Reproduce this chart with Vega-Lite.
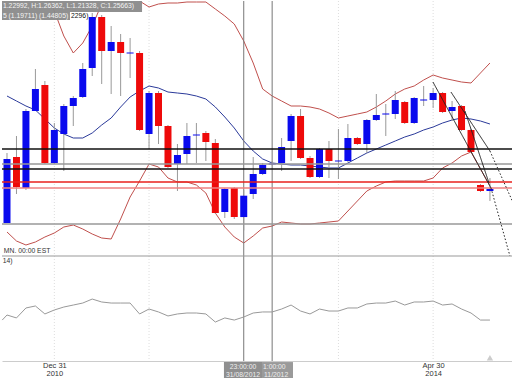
{
  "$schema": "https://vega.github.io/schema/vega-lite/v6.json",
  "autosize": {"type": "pad"},
  "padding": 0,
  "spacing": 0,
  "bounds": "flush",
  "background": "white",
  "config": {
    "view": {"stroke": null},
    "font": "Liberation Sans",
    "text": {"font": "Liberation Sans"},
    "scale": {"continuousPadding": 0},
    "axis": {"grid": false, "ticks": false, "domain": false, "labels": false, "title": null}
  },
  "datasets": {
    "one": [{"k": 1}],
    "candles": [
      {"i":0,"o":1.2225,"h":1.31,"l":1.2225,"c":1.3025},
      {"i":1,"o":1.305,"h":1.33125,"l":1.25875,"c":1.2675},
      {"i":2,"o":1.26625,"h":1.365,"l":1.26375,"c":1.3625},
      {"i":3,"o":1.3625,"h":1.415,"l":1.3625,"c":1.39},
      {"i":4,"o":1.395,"h":1.4,"l":1.29625,"c":1.2975},
      {"i":5,"o":1.2975,"h":1.3475,"l":1.29625,"c":1.33875},
      {"i":6,"o":1.33375,"h":1.37125,"l":1.2875,"c":1.36875},
      {"i":7,"o":1.36875,"h":1.38125,"l":1.34375,"c":1.37875},
      {"i":8,"o":1.38,"h":1.4225,"l":1.37875,"c":1.415},
      {"i":9,"o":1.41625,"h":1.485,"l":1.40625,"c":1.48},
      {"i":10,"o":1.48,"h":1.4825,"l":1.39625,"c":1.4375},
      {"i":11,"o":1.4375,"h":1.46875,"l":1.38375,"c":1.44875},
      {"i":12,"o":1.44875,"h":1.45875,"l":1.38125,"c":1.435},
      {"i":13,"o":1.434375,"h":1.45375,"l":1.40375,"c":1.435625},
      {"i":14,"o":1.435,"h":1.4375,"l":1.3375,"c":1.33875},
      {"i":15,"o":1.33375,"h":1.3875,"l":1.315,"c":1.385},
      {"i":16,"o":1.385,"h":1.3875,"l":1.32125,"c":1.34375},
      {"i":17,"o":1.34375,"h":1.345,"l":1.29125,"c":1.2925},
      {"i":18,"o":1.29625,"h":1.32125,"l":1.2625,"c":1.3075},
      {"i":19,"o":1.30875,"h":1.3475,"l":1.29625,"c":1.33125},
      {"i":20,"o":1.331875,"h":1.3475,"l":1.2975,"c":1.333125},
      {"i":21,"o":1.335,"h":1.3375,"l":1.3,"c":1.32375},
      {"i":22,"o":1.3225,"h":1.3275,"l":1.23375,"c":1.235},
      {"i":23,"o":1.23625,"h":1.26625,"l":1.22875,"c":1.265},
      {"i":24,"o":1.26625,"h":1.2675,"l":1.2275,"c":1.23},
      {"i":25,"o":1.22992,"h":1.26362,"l":1.21328,"c":1.25663},
      {"i":26,"o":1.25875,"h":1.305,"l":1.2525,"c":1.28375},
      {"i":27,"o":1.28375,"h":1.2975,"l":1.2825,"c":1.295},
      {"i":28,"o":1.2956,"h":1.3,"l":1.2944,"c":1.2969},
      {"i":29,"o":1.2975,"h":1.32875,"l":1.2875,"c":1.3175},
      {"i":30,"o":1.325,"h":1.35875,"l":1.3,"c":1.35625},
      {"i":31,"o":1.35625,"h":1.365,"l":1.3025,"c":1.30375},
      {"i":32,"o":1.30375,"h":1.30625,"l":1.27875,"c":1.28},
      {"i":33,"o":1.28,"h":1.31625,"l":1.27875,"c":1.315},
      {"i":34,"o":1.315,"h":1.325,"l":1.27875,"c":1.3},
      {"i":35,"o":1.2994,"h":1.34,"l":1.2775,"c":1.3006},
      {"i":36,"o":1.3,"h":1.34625,"l":1.29875,"c":1.32875},
      {"i":37,"o":1.32875,"h":1.33,"l":1.32,"c":1.32125},
      {"i":38,"o":1.32125,"h":1.3525,"l":1.31,"c":1.35125},
      {"i":39,"o":1.35125,"h":1.38375,"l":1.35,"c":1.3575},
      {"i":40,"o":1.3581,"h":1.37125,"l":1.33125,"c":1.3594},
      {"i":41,"o":1.35875,"h":1.3875,"l":1.3525,"c":1.37625},
      {"i":42,"o":1.37375,"h":1.375,"l":1.34625,"c":1.3475},
      {"i":43,"o":1.3475,"h":1.38,"l":1.34625,"c":1.37875},
      {"i":44,"o":1.3756,"h":1.39375,"l":1.36875,"c":1.3769},
      {"i":45,"o":1.37625,"h":1.39125,"l":1.36625,"c":1.385},
      {"i":46,"o":1.385,"h":1.38625,"l":1.36,"c":1.36125},
      {"i":47,"o":1.3625,"h":1.375,"l":1.35,"c":1.3675},
      {"i":48,"o":1.36875,"h":1.37,"l":1.3375,"c":1.33875},
      {"i":49,"o":1.33875,"h":1.34,"l":1.31,"c":1.31125},
      {"i":50,"o":1.27,"h":1.27125,"l":1.26125,"c":1.2625},
      {"i":51,"o":1.2625,"h":1.27875,"l":1.25,"c":1.265}
    ],
    "bands": [
      {"i":0,"up":1.575,"mid":1.38125,"lo":1.21125},
      {"i":1,"up":1.56875,"mid":1.375,"lo":1.2},
      {"i":2,"up":1.55625,"mid":1.36875,"lo":1.195},
      {"i":3,"up":1.54375,"mid":1.36375,"lo":1.19875},
      {"i":4,"up":1.5125,"mid":1.3525,"lo":1.205},
      {"i":5,"up":1.4875,"mid":1.34125,"lo":1.21},
      {"i":6,"up":1.45625,"mid":1.33375,"lo":1.2175},
      {"i":7,"up":1.435,"mid":1.32875,"lo":1.22},
      {"i":8,"up":1.4475,"mid":1.32875,"lo":1.215},
      {"i":9,"up":1.46875,"mid":1.335,"lo":1.20875},
      {"i":10,"up":1.49625,"mid":1.345,"lo":1.20375},
      {"i":11,"up":1.51,"mid":1.35375,"lo":1.2025},
      {"i":12,"up":1.515,"mid":1.3675,"lo":1.2275},
      {"i":13,"up":1.51,"mid":1.38,"lo":1.255},
      {"i":14,"up":1.5,"mid":1.3875,"lo":1.275},
      {"i":15,"up":1.4925,"mid":1.39375,"lo":1.29625},
      {"i":16,"up":1.49625,"mid":1.39125,"lo":1.2925},
      {"i":17,"up":1.4975,"mid":1.38625,"lo":1.27875},
      {"i":18,"up":1.4975,"mid":1.385,"lo":1.27375},
      {"i":19,"up":1.49875,"mid":1.38375,"lo":1.27375},
      {"i":20,"up":1.49875,"mid":1.38125,"lo":1.27},
      {"i":21,"up":1.49875,"mid":1.3775,"lo":1.26},
      {"i":22,"up":1.49,"mid":1.3675,"lo":1.235},
      {"i":23,"up":1.48125,"mid":1.355,"lo":1.2175},
      {"i":24,"up":1.47125,"mid":1.34125,"lo":1.205},
      {"i":25,"up":1.45,"mid":1.325,"lo":1.1975},
      {"i":26,"up":1.4225,"mid":1.3125,"lo":1.20625},
      {"i":27,"up":1.39,"mid":1.3025,"lo":1.21625},
      {"i":28,"up":1.38125,"mid":1.2975,"lo":1.21875},
      {"i":29,"up":1.375,"mid":1.29625,"lo":1.22375},
      {"i":30,"up":1.36875,"mid":1.295,"lo":1.2225},
      {"i":31,"up":1.36875,"mid":1.295,"lo":1.22125},
      {"i":32,"up":1.3675,"mid":1.29375,"lo":1.22125},
      {"i":33,"up":1.365,"mid":1.2925,"lo":1.2225},
      {"i":34,"up":1.36,"mid":1.29125,"lo":1.22375},
      {"i":35,"up":1.35375,"mid":1.29125,"lo":1.225},
      {"i":36,"up":1.35625,"mid":1.2975,"lo":1.2375},
      {"i":37,"up":1.35875,"mid":1.30375,"lo":1.25},
      {"i":38,"up":1.36125,"mid":1.31,"lo":1.2625},
      {"i":39,"up":1.3675,"mid":1.315,"lo":1.26875},
      {"i":40,"up":1.375,"mid":1.32,"lo":1.27375},
      {"i":41,"up":1.38375,"mid":1.325,"lo":1.275},
      {"i":42,"up":1.39,"mid":1.33,"lo":1.275},
      {"i":43,"up":1.39375,"mid":1.33375,"lo":1.275},
      {"i":44,"up":1.40125,"mid":1.33875,"lo":1.275},
      {"i":45,"up":1.4075,"mid":1.3425,"lo":1.27875},
      {"i":46,"up":1.40375,"mid":1.3475,"lo":1.29125},
      {"i":47,"up":1.40125,"mid":1.35125,"lo":1.2975},
      {"i":48,"up":1.39875,"mid":1.35375,"lo":1.30625},
      {"i":49,"up":1.3975,"mid":1.3525,"lo":1.31125},
      {"i":50,"up":1.41,"mid":1.35,"lo":1.29},
      {"i":51,"up":1.4225,"mid":1.34625,"lo":1.26875}
    ],
    "rsi": [
      {"i":-0.5,"v":39.0},{"i":0,"v":43.8},{"i":1,"v":41.0},{"i":2,"v":50.5},{"i":3,"v":52.4},
      {"i":4,"v":44.8},{"i":5,"v":48.6},{"i":6,"v":51.4},{"i":7,"v":53.3},{"i":8,"v":55.2},
      {"i":9,"v":59.0},{"i":10,"v":56.2},{"i":11,"v":55.2},{"i":12,"v":55.2},{"i":13,"v":55.2},
      {"i":14,"v":44.8},{"i":15,"v":49.5},{"i":16,"v":46.7},{"i":17,"v":42.9},{"i":18,"v":44.8},
      {"i":19,"v":45.7},{"i":20,"v":45.7},{"i":21,"v":44.8},{"i":22,"v":37.1},{"i":23,"v":41.0},
      {"i":24,"v":39.0},{"i":25,"v":41.9},{"i":26,"v":45.7},{"i":27,"v":46.7},{"i":28,"v":46.7},
      {"i":29,"v":49.5},{"i":30,"v":53.3},{"i":31,"v":47.6},{"i":32,"v":44.8},{"i":33,"v":49.5},
      {"i":34,"v":47.6},{"i":35,"v":47.6},{"i":36,"v":50.5},{"i":37,"v":50.5},{"i":38,"v":54.3},
      {"i":39,"v":55.2},{"i":40,"v":55.2},{"i":41,"v":57.1},{"i":42,"v":53.3},{"i":43,"v":56.2},
      {"i":44,"v":56.2},{"i":45,"v":57.1},{"i":46,"v":53.3},{"i":47,"v":54.3},{"i":48,"v":49.5},
      {"i":49,"v":45.7},{"i":50,"v":39.0},{"i":51,"v":39.0}
    ],
    "grid": [{"i":5},{"i":15},{"i":35},{"i":45}],
    "cross": [{"i":25},{"i":28}],
    "levels": [
      {"p":1.315,"kind":"r1"},
      {"p":1.29625,"kind":"pv"},
      {"p":1.29,"kind":"r2"},
      {"p":1.27375,"kind":"s1"},
      {"p":1.26625,"kind":"s2"},
      {"p":1.22125,"kind":"lw"}
    ],
    "trend": [
      {"seg":"A1","style":"solid","i":44.98,"p":1.39875},
      {"seg":"A1","style":"solid","i":51.11,"p":1.26625},
      {"seg":"A2","style":"dotted","i":51.11,"p":1.26625},
      {"seg":"A2","style":"dotted","i":53.11,"p":1.18125},
      {"seg":"B1","style":"solid","i":46.88,"p":1.38625},
      {"seg":"B1","style":"solid","i":51.0,"p":1.3125},
      {"seg":"B2","style":"dotted","i":51.0,"p":1.3125},
      {"seg":"B2","style":"dotted","i":53.6,"p":1.24375},
      {"seg":"D1","style":"solid","i":48.36,"p":1.3625},
      {"seg":"D1","style":"solid","i":50.9,"p":1.2725}
    ]
  },
  "vconcat": [
    {
      "width": 512,
      "height": 255,
      "layer": [
        {
          "data": {"name": "grid"},
          "mark": {"type": "rule", "color": "#dddddd", "strokeDash": [1, 2], "strokeWidth": 1},
          "encoding": {"x": {"field": "i", "type": "quantitative", "scale": {"domain": [-0.528, 53.54], "nice": false, "zero": false, "padding": 0}, "axis": null}}
        },
        {
          "data": {"name": "bands"},
          "mark": {"type": "line", "color": "#c0504d", "strokeWidth": 1, "clip": true},
          "encoding": {
            "x": {"field": "i", "type": "quantitative", "axis": null},
            "y": {"field": "up", "type": "quantitative", "scale": {"domain": [1.18125, 1.5], "nice": false, "zero": false, "padding": 0}, "axis": null}
          }
        },
        {
          "data": {"name": "bands"},
          "mark": {"type": "line", "color": "#c0504d", "strokeWidth": 1, "clip": true},
          "encoding": {
            "x": {"field": "i", "type": "quantitative", "axis": null},
            "y": {"field": "lo", "type": "quantitative", "axis": null}
          }
        },
        {
          "data": {"name": "bands"},
          "mark": {"type": "line", "color": "#2b3a9a", "strokeWidth": 1, "clip": true},
          "encoding": {
            "x": {"field": "i", "type": "quantitative", "axis": null},
            "y": {"field": "mid", "type": "quantitative", "axis": null}
          }
        },
        {
          "data": {"name": "cross"},
          "mark": {"type": "rule", "color": "#777777", "strokeWidth": 1},
          "encoding": {"x": {"field": "i", "type": "quantitative", "axis": null}}
        },
        {
          "data": {"name": "candles"},
          "mark": {"type": "rule", "color": "#999999", "strokeWidth": 1},
          "encoding": {
            "x": {"field": "i", "type": "quantitative", "axis": null},
            "y": {"field": "l", "type": "quantitative", "axis": null},
            "y2": {"field": "h"}
          }
        },
        {
          "data": {"name": "candles"},
          "mark": {"type": "bar", "width": 7},
          "encoding": {
            "x": {"field": "i", "type": "quantitative", "scale": {"domain": [-0.528, 53.54], "nice": false, "zero": false, "padding": 0}, "axis": null},
            "y": {"field": "o", "type": "quantitative", "axis": null},
            "y2": {"field": "c"},
            "color": {"condition": {"test": "datum.c >= datum.o", "value": "#0a0aee"}, "value": "#ee0a0a"}
          }
        },
        {
          "data": {"name": "levels"},
          "mark": {"type": "rule"},
          "encoding": {
            "y": {"field": "p", "type": "quantitative", "axis": null},
            "color": {"field": "kind", "type": "nominal", "legend": null, "scale": {"domain": ["r1", "r2", "pv", "s1", "s2", "lw"], "range": ["#111111", "#111111", "#999999", "#e8201c", "#ee8080", "#999999"]}},
            "strokeWidth": {"field": "kind", "type": "ordinal", "legend": null, "scale": {"domain": ["r1", "r2", "pv", "s1", "s2", "lw"], "range": [1.5, 1.5, 1, 2.5, 1, 1]}}
          }
        },
        {
          "data": {"name": "trend"},
          "mark": {"type": "line", "color": "#222222", "strokeWidth": 1, "clip": true},
          "encoding": {
            "x": {"field": "i", "type": "quantitative", "axis": null},
            "y": {"field": "p", "type": "quantitative", "axis": null},
            "detail": {"field": "seg", "type": "nominal"},
            "strokeDash": {"field": "style", "type": "nominal", "legend": null, "scale": {"domain": ["solid", "dotted"], "range": [[1, 0], [1.5, 2]]}}
          }
        },
        {
          "data": {"name": "one"},
          "mark": {"type": "rect", "color": "#8a8a8a", "opacity": 0.95},
          "encoding": {
            "x": {"datum": -0.528, "type": "quantitative", "axis": null},
            "x2": {"datum": 14.26},
            "y": {"datum": 1.5, "type": "quantitative", "axis": null},
            "y2": {"datum": 1.48625}
          }
        },
        {
          "data": {"name": "one"},
          "mark": {"type": "rect", "color": "#8a8a8a", "opacity": 0.95},
          "encoding": {
            "x": {"datum": -0.528, "type": "quantitative", "axis": null},
            "x2": {"datum": 6.65},
            "y": {"datum": 1.48625, "type": "quantitative", "axis": null},
            "y2": {"datum": 1.47625}
          }
        },
        {
          "data": {"name": "one"},
          "mark": {"type": "text", "text": "1.22992, H:1.26362, L:1.21328, C:1.25663)", "align": "left", "baseline": "middle", "font": "Liberation Sans", "fontSize": 6.8, "color": "#f4f4f4"},
          "encoding": {"x": {"datum": -0.43, "type": "quantitative", "axis": null}, "y": {"datum": 1.4933, "type": "quantitative", "axis": null}}
        },
        {
          "data": {"name": "one"},
          "mark": {"type": "text", "text": "5 (1.19711) (1.44805)", "align": "left", "baseline": "middle", "font": "Liberation Sans", "fontSize": 6.8, "color": "#f4f4f4"},
          "encoding": {"x": {"datum": -0.43, "type": "quantitative", "axis": null}, "y": {"datum": 1.4812, "type": "quantitative", "axis": null}}
        },
        {
          "data": {"name": "one"},
          "mark": {"type": "text", "text": "2296)", "align": "left", "baseline": "middle", "font": "Liberation Sans", "fontSize": 6.8, "color": "#111111"},
          "encoding": {"x": {"datum": 6.76, "type": "quantitative", "axis": null}, "y": {"datum": 1.4812, "type": "quantitative", "axis": null}}
        },
        {
          "data": {"name": "one"},
          "mark": {"type": "text", "text": "MN. 00:00 EST", "align": "left", "baseline": "middle", "font": "Liberation Sans", "fontSize": 6.8, "color": "#333333"},
          "encoding": {"x": {"datum": -0.33, "type": "quantitative", "axis": null}, "y": {"datum": 1.1875, "type": "quantitative", "axis": null}}
        }
      ]
    },
    {
      "width": 512,
      "height": 105,
      "layer": [
        {
          "data": {"name": "grid"},
          "mark": {"type": "rule", "color": "#dddddd", "strokeDash": [1, 2], "strokeWidth": 1},
          "encoding": {
            "x": {
              "field": "i", "type": "quantitative",
              "scale": {"domain": [-0.528, 53.54], "nice": false, "zero": false, "padding": 0},
              "axis": {
                "values": [5, 45],
                "labelExpr": "datum.value == 5 ? ['Dec 31', '2010'] : ['Apr 30', '2014']",
                "title": null, "grid": false, "ticks": false, "labels": true,
                "domain": true, "domainColor": "#cccccc", "domainWidth": 1,
                "labelColor": "#333333", "labelFontSize": 7.5, "labelLineHeight": 8.5,
                "labelPadding": 0, "labelFont": "Liberation Sans", "labelFlush": false, "labelOverlap": false
              }
            }
          }
        },
        {
          "data": {"name": "cross"},
          "mark": {"type": "rule", "color": "#777777", "strokeWidth": 1},
          "encoding": {"x": {"field": "i", "type": "quantitative"}}
        },
        {
          "data": {"name": "one"},
          "mark": {"type": "rule", "color": "#999999", "strokeWidth": 1},
          "encoding": {"y": {"datum": 100, "type": "quantitative", "scale": {"domain": [0, 100], "nice": false, "zero": false}, "axis": null}}
        },
        {
          "data": {"name": "rsi"},
          "mark": {"type": "line", "color": "#999999", "strokeWidth": 1},
          "encoding": {
            "x": {"field": "i", "type": "quantitative"},
            "y": {"field": "v", "type": "quantitative", "axis": null}
          }
        },
        {
          "data": {"name": "one"},
          "mark": {"type": "point", "shape": "triangle-up", "filled": true, "color": "#cccccc", "size": 40, "opacity": 1},
          "encoding": {"x": {"datum": 51, "type": "quantitative"}, "y": {"datum": 3, "type": "quantitative", "axis": null}}
        },
        {
          "data": {"name": "one"},
          "mark": {"type": "text", "text": "14)", "align": "left", "baseline": "middle", "font": "Liberation Sans", "fontSize": 6.8, "color": "#333333"},
          "encoding": {"x": {"datum": -0.45, "type": "quantitative"}, "y": {"datum": 95, "type": "quantitative", "axis": null}}
        },
        {
          "data": {"name": "one"},
          "mark": {"type": "rect", "color": "#9a9a9a"},
          "encoding": {"x": {"datum": 26.93, "type": "quantitative"}, "x2": {"datum": 30.2}, "y": {"datum": -1, "type": "quantitative", "axis": null}, "y2": {"datum": -18}}
        },
        {
          "data": {"name": "one"},
          "mark": {"type": "text", "text": "1:00:00", "align": "left", "baseline": "middle", "font": "Liberation Sans", "fontSize": 6.8, "color": "#eeeeee"},
          "encoding": {"x": {"datum": 27.03, "type": "quantitative"}, "y": {"datum": -5.7, "type": "quantitative", "axis": null}}
        },
        {
          "data": {"name": "one"},
          "mark": {"type": "text", "text": "11/2012", "align": "left", "baseline": "middle", "font": "Liberation Sans", "fontSize": 6.8, "color": "#eeeeee"},
          "encoding": {"x": {"datum": 27.15, "type": "quantitative"}, "y": {"datum": -13.3, "type": "quantitative", "axis": null}}
        },
        {
          "data": {"name": "one"},
          "mark": {"type": "rect", "color": "#8f8f8f"},
          "encoding": {"x": {"datum": 22.91, "type": "quantitative"}, "x2": {"datum": 26.93}, "y": {"datum": -1, "type": "quantitative", "axis": null}, "y2": {"datum": -18}}
        },
        {
          "data": {"name": "one"},
          "mark": {"type": "text", "text": "23:00:00", "align": "center", "baseline": "middle", "font": "Liberation Sans", "fontSize": 6.8, "color": "#eeeeee"},
          "encoding": {"x": {"datum": 24.92, "type": "quantitative"}, "y": {"datum": -5.7, "type": "quantitative", "axis": null}}
        },
        {
          "data": {"name": "one"},
          "mark": {"type": "text", "text": "31/08/2012", "align": "center", "baseline": "middle", "font": "Liberation Sans", "fontSize": 6.8, "color": "#eeeeee"},
          "encoding": {"x": {"datum": 24.92, "type": "quantitative"}, "y": {"datum": -13.3, "type": "quantitative", "axis": null}}
        }
      ]
    }
  ]
}
